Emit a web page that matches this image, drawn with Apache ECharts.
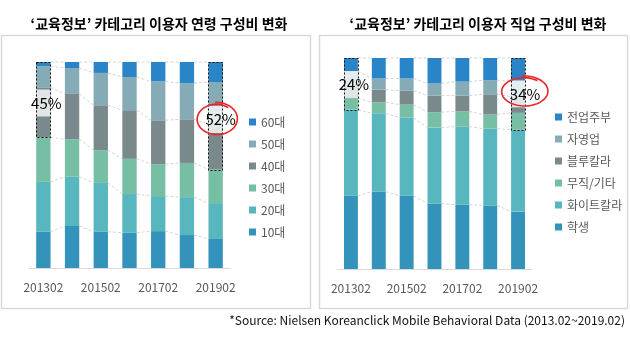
<!DOCTYPE html>
<html><head><meta charset="utf-8">
<script src="https://cdn.jsdelivr.net/npm/echarts@6/dist/echarts.min.js"></script>
<style>html,body{margin:0;padding:0;background:#fff}#c{width:630px;height:340px}</style>
</head><body><div id="c"></div>
<script>
// ---------- data ----------
const categories = ['201302','201402','201502','201602','201702','201802','201902'];

const ageNames = ['10대','20대','30대','40대','50대','60대'];
const age10 = [17.6, 20.4, 17.6, 17.1, 17.9, 16.0, 14.1];
const age20 = [24.2, 23.9, 23.7, 18.8, 17.0, 18.4, 17.4];
const age30 = [21.7, 18.2, 15.9, 17.1, 15.5, 16.6, 16.3];
const age40 = [24.2, 22.0, 21.8, 23.6, 21.3, 21.2, 22.0];
const age50 = [10.3, 12.6, 15.7, 16.1, 18.9, 17.5, 20.5];
const age60 = [2.0, 2.9, 5.3, 7.3, 9.4, 10.3, 9.7];

const jobNames = ['학생','화이트칼라','무직/기타','블루칼라','자영업','전업주부'];
const jobStudent = [34.7, 36.7, 34.7, 31.0, 30.5, 30.1, 27.2];
const jobWhite   = [40.8, 37.1, 37.0, 36.0, 37.0, 36.4, 38.8];
const jobNone    = [5.5, 5.2, 6.2, 7.3, 7.2, 6.7, 8.0];
const jobBlue    = [6.2, 6.0, 6.7, 7.9, 7.5, 9.6, 7.7];
const jobSelf    = [6.5, 5.3, 5.7, 5.7, 6.6, 6.7, 7.3];
const jobHome    = [6.3, 9.7, 9.7, 12.1, 11.2, 10.5, 11.0];

const xTickLabels = ['201302','201502','201702','201902'];

const leftTitle = '‘교육정보’ 카테고리 이용자 연령 구성비 변화';
const rightTitle = '‘교육정보’ 카테고리 이용자 직업 구성비 변화';
const sourceText = '*Source: Nielsen Koreanclick Mobile Behavioral Data (2013.02~2019.02)';

// highlighted groups: category index, first stacked series included, label, label centre value
const leftMarks  = [{cat:0, from:3, label:'45%', at:80.1}, {cat:6, from:3, label:'52%', at:72.1}];
const rightMarks = [{cat:0, from:2, label:'24%', at:87.4}, {cat:6, from:2, label:'34%', at:83.0}];

// ---------- styles ----------
const colors = ['#3493bb','#58b6bf','#76bfa5','#7a8a8c','#85abb6','#2984c8'];
const FONT = "'Noto Sans CJK KR', 'Noto Sans', sans-serif";
const markStyle = {
  left:  [{dx:3, ring:null}, {dx:5, ring:{dx:1, dy:-0.5, rx:20, ry:15.5}}],
  right: [{dx:3, ring:null}, {dx:7, ring:{dx:6, dy:-2.5, rx:23, ry:14.5}}]
};

const ageSeries = [age10, age20, age30, age40, age50, age60];
const jobSeries = [jobStudent, jobWhite, jobNone, jobBlue, jobSelf, jobHome];

function cum(stack, i, k) { // sum of first k series at category i
  let s = 0; for (let j = 0; j < k; j++) s += stack[j][i]; return s;
}

function connectorSeries(stack, gi) {
  const data = [];
  for (let k = 1; k <= stack.length; k++)
    for (let i = 0; i < categories.length - 1; i++) data.push([i, k]);
  return {
    type: 'custom', xAxisIndex: gi, yAxisIndex: gi, silent: true, z: 1,
    data: data,
    renderItem: function (params, api) {
      const i = api.value(0), k = api.value(1);
      const bw = api.size([1, 0])[0] * 0.5;
      const p1 = api.coord([i, cum(stack, i, k)]);
      const p2 = api.coord([i + 1, cum(stack, i + 1, k)]);
      return {
        type: 'line',
        shape: {x1: p1[0] + bw / 2, y1: p1[1], x2: p2[0] - bw / 2, y2: p2[1]},
        style: {stroke: '#d4d4d4', lineWidth: 1, lineDash: [3, 2]}
      };
    }
  };
}

function ringPoints(cx, cy, rx, ry) {
  const pts = [];
  const n = 80, a0 = -0.9;
  for (let t = 0; t <= n; t++) {
    const f = t / n;
    const a = a0 - f * (Math.PI * 2 + 0.75);
    const s = 0.93 + 0.14 * f;
    pts.push([cx + rx * s * Math.cos(a), cy + ry * s * Math.sin(a)]);
  }
  return pts;
}

function markSeries(stack, marks, styles, gi) {
  return {
    type: 'custom', xAxisIndex: gi, yAxisIndex: gi, silent: true, z: 5,
    data: marks.map((m, idx) => [m.cat, idx]),
    renderItem: function (params, api) {
      const m = marks[api.value(1)], st = styles[api.value(1)];
      const bw = api.size([1, 0])[0] * 0.5;
      const c = api.coord([m.cat, 100]);
      const bottom = api.coord([m.cat, cum(stack, m.cat, m.from)])[1];
      const ly = api.coord([m.cat, m.at])[1];
      const x0 = c[0] - bw / 2;
      const children = [
        {type: 'rect', shape: {x: x0, y: ly - 13.5, width: bw, height: 27},
         style: {fill: 'rgba(255,255,255,0.78)'}},
        {type: 'rect', shape: {x: Math.round(x0) + 0.5, y: Math.round(c[1]) + 0.5, width: Math.round(bw), height: Math.round(bottom - c[1])},
         style: {fill: 'none', stroke: '#111', lineWidth: 1, lineDash: [2, 2]}},
        {type: 'text', x: c[0] + st.dx, y: ly,
         style: {text: m.label, fill: '#000', font: '15px ' + FONT, align: 'center', verticalAlign: 'middle'}}
      ];
      if (st.ring) {
        children.push({type: 'polyline',
          shape: {points: ringPoints(c[0] + st.ring.dx, ly + st.ring.dy, st.ring.rx, st.ring.ry)},
          style: {stroke: '#e8262a', lineWidth: 1.6, fill: 'none'}});
      }
      return {type: 'group', children: children};
    }
  };
}

function barSeries(names, stack, gi) {
  return names.map((n, k) => ({
    name: n, type: 'bar', stack: 's' + gi, xAxisIndex: gi, yAxisIndex: gi,
    barWidth: '50%', data: stack[k], itemStyle: {color: colors[k]}, z: 2,
    emphasis: {disabled: true}
  }));
}

function xAxis(gi) {
  return {
    type: 'category', gridIndex: gi, data: categories,
    axisLine: {lineStyle: {color: '#d9d9d9', width: 1}},
    axisTick: {show: false},
    axisLabel: {
      color: '#595959', fontSize: 12, fontFamily: FONT, margin: 13,
      interval: function (i, v) { return xTickLabels.indexOf(v) >= 0; }
    }
  };
}
function yAxis(gi) {
  return {type: 'value', gridIndex: gi, min: 0, max: 100, show: false, splitLine: {show: false}};
}
function legend(names, left, top) {
  return {
    data: names.slice().reverse(), orient: 'vertical', left: left, top: top,
    itemWidth: 7, itemHeight: 7, itemGap: 8, icon: 'rect', selectedMode: false,
    textStyle: {color: '#595959', fontSize: 12, lineHeight: 14, fontFamily: FONT}
  };
}

const chart = echarts.init(document.getElementById('c'), null, {renderer: 'canvas'});
chart.setOption({
  animation: false,
  textStyle: {fontFamily: FONT},
  title: [
    {text: leftTitle, left: 154, top: 12, textAlign: 'center',
     textStyle: {fontSize: 14, fontWeight: 'bold', color: '#000', fontFamily: FONT}},
    {text: rightTitle, left: 473, top: 12, textAlign: 'center',
     textStyle: {fontSize: 14, fontWeight: 'bold', color: '#000', fontFamily: FONT}},
    {text: sourceText, right: 0, top: 309,
     textStyle: {fontSize: 12, fontWeight: 'normal', color: '#111', fontFamily: FONT}}
  ],
  graphic: [
    {type: 'rect', shape: {x: 1.5, y: 35.5, width: 309, height: 273}, style: {fill: 'none', stroke: '#d9d9d9', lineWidth: 1.5}, silent: true},
    {type: 'rect', shape: {x: 319.5, y: 35.5, width: 308, height: 273}, style: {fill: 'none', stroke: '#d9d9d9', lineWidth: 1.5}, silent: true}
  ],
  grid: [
    {left: 29, top: 62, width: 201, height: 206},
    {left: 337, top: 58, width: 195, height: 211}
  ],
  legend: [legend(ageNames, 244, 110), legend(jobNames, 550, 105)],
  xAxis: [xAxis(0), xAxis(1)],
  yAxis: [yAxis(0), yAxis(1)],
  series: [].concat(
    barSeries(ageNames, ageSeries, 0),
    barSeries(jobNames, jobSeries, 1),
    [connectorSeries(ageSeries, 0), connectorSeries(jobSeries, 1),
     markSeries(ageSeries, leftMarks, markStyle.left, 0),
     markSeries(jobSeries, rightMarks, markStyle.right, 1)]
  )
});
</script></body></html>
